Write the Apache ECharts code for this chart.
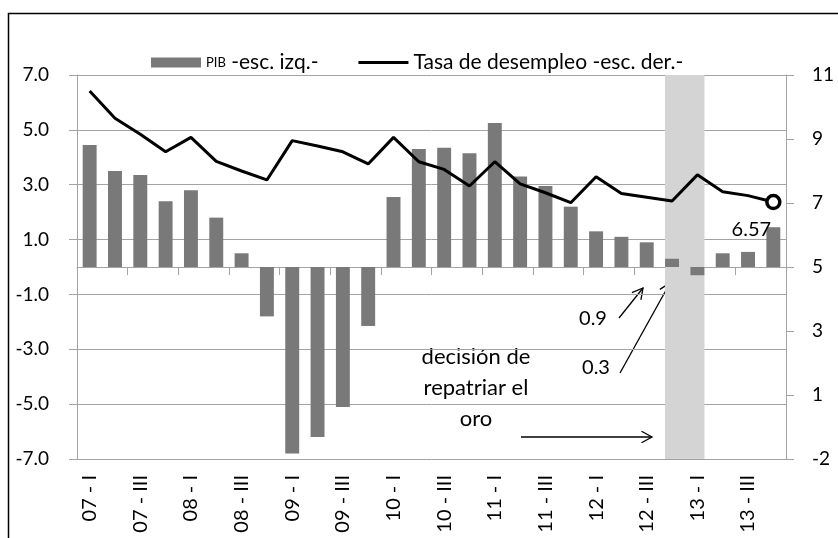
<!DOCTYPE html>
<html>
<head>
<meta charset="utf-8">
<script src="https://cdn.jsdelivr.net/npm/echarts@6/dist/echarts.min.js"></script>
<style>
  html, body { margin: 0; padding: 0; background: #fff; }
  #chart { width: 838px; height: 538px; }
</style>
</head>
<body>
<div id="chart"></div>
<script>
var quarters = [
    "07 - I", "07 - II", "07 - III", "07 - IV",
    "08 - I", "08 - II", "08 - III", "08 - IV",
    "09 - I", "09 - II", "09 - III", "09 - IV",
    "10 - I", "10 - II", "10 - III", "10 - IV",
    "11 - I", "11 - II", "11 - III", "11 - IV",
    "12 - I", "12 - II", "12 - III", "12 - IV",
    "13 - I", "13 - II", "13 - III", "13 - IV"
];
var pib = [4.45, 3.5, 3.35, 2.4, 2.8, 1.8, 0.5, -1.8, -6.8, -6.2, -5.1, -2.15,
    2.55, 4.3, 4.35, 4.15, 5.25, 3.3, 2.95, 2.2, 1.3, 1.1, 0.9, 0.3, -0.3, 0.5, 0.55, 1.45];
var desempleo = [10.5, 9.65, 9.15, 8.6, 9.05, 8.3, 8.0, 7.72, 8.95, 8.78, 8.6, 8.22,
    9.05, 8.29, 8.05, 7.53, 8.29, 7.6, 7.32, 7.01, 7.82, 7.3, 7.18, 7.06, 7.88, 7.35, 7.23, 7.03];
var leftLabels = ["-7.0", "-5.0", "-3.0", "-1.0", "1.0", "3.0", "5.0", "7.0"];
var rightLabels = ["-2", "1", "3", "5", "7", "9", "11"];
var lastLabel = "6.57";
// franja gris (en unidades de categoria)
var shadeFrom = 23.22, shadeTo = 24.78;

var font = 'Lato, "Open Sans", sans-serif';
var gridGray = "#a3a3a3";

var lineData = desempleo.map(function (v, i) {
    if (i !== desempleo.length - 1) return v;
    return {
        value: v,
        symbol: "circle",
        symbolSize: 13,
        itemStyle: {color: "#fff", borderColor: "#000", borderWidth: 3.5},
        label: {
            show: true, position: "bottom", distance: 9, offset: [-22, 0],
            formatter: lastLabel, fontSize: 20, color: "#000", fontFamily: font
        }
    };
});

function arrow(x1, y1, x2, y2) {
    var a = Math.atan2(y2 - y1, x2 - x1), L = 12, s = 0.5;
    return {
        type: "group", silent: true,
        children: [
            {type: "line", shape: {x1: x1, y1: y1, x2: x2, y2: y2}, style: {stroke: "#000", lineWidth: 1.3}},
            {type: "polyline", shape: {points: [
                [x2 - L * Math.cos(a - s), y2 - L * Math.sin(a - s)],
                [x2, y2],
                [x2 - L * Math.cos(a + s), y2 - L * Math.sin(a + s)]
            ]}, style: {stroke: "#000", lineWidth: 1.3, fill: null}}
        ]
    };
}

var myChart = echarts.init(document.getElementById("chart"));
var option = {
    animation: false,
    textStyle: {fontFamily: font},
    grid: {left: 77, right: 52, top: 75, bottom: 79},
    legend: {
        top: 47, left: 146,
        itemWidth: 50, itemHeight: 10, itemGap: 40,
        textStyle: {fontSize: 21, color: "#000", fontFamily: font, rich: {s: {fontSize: 13, fontFamily: font}}},
        data: [
            {name: "PIB", icon: "rect"},
            {name: "Tasa de desempleo -esc. der.-", icon: "path://M0,0H16V1H0Z"}
        ],
        formatter: function (name) {
            return name === "PIB" ? "{s|PIB} -esc. izq.-" : name;
        }
    },
    xAxis: [
        {
            type: "category", data: quarters, position: "bottom",
            axisLine: {onZero: true, lineStyle: {color: gridGray}},
            axisTick: {show: true, length: 8, lineStyle: {color: gridGray}},
            axisLabel: {show: false},
            splitLine: {show: false}
        },
        {
            type: "category", data: quarters, position: "bottom",
            axisLine: {show: false, onZero: false},
            axisTick: {show: false},
            axisLabel: {rotate: 90, interval: 1, fontSize: 20, color: "#000", margin: 16, fontFamily: font},
            splitLine: {show: false}
        },
        {type: "value", min: 0, max: quarters.length, show: false}
    ],
    yAxis: [
        {
            type: "value", min: -7, max: 7, interval: 2, position: "left",
            axisLine: {show: true, lineStyle: {color: gridGray}},
            axisTick: {show: true, length: 8, lineStyle: {color: gridGray}},
            axisLabel: {
                fontSize: 19, color: "#000", margin: 28,
                formatter: function (v, i) { return leftLabels[i]; }
            },
            splitLine: {show: true, lineStyle: {color: gridGray}}
        },
        {
            type: "value", min: -1, max: 11, interval: 2, position: "right",
            axisLine: {show: true, lineStyle: {color: gridGray}},
            axisTick: {show: true, length: 8, lineStyle: {color: gridGray}},
            axisLabel: {
                fontSize: 19, color: "#000", margin: 26,
                formatter: function (v, i) { return rightLabels[i]; }
            },
            splitLine: {show: false}
        }
    ],
    series: [
        {
            name: "franja", type: "line", xAxisIndex: 2, yAxisIndex: 0, data: [],
            silent: true, z: 1,
            markArea: {silent: true, itemStyle: {color: "#d4d4d4"}, data: [[{xAxis: shadeFrom}, {xAxis: shadeTo}]]}
        },
        {
            name: "PIB", type: "bar", data: pib, barWidth: "55%", z: 2,
            itemStyle: {color: "#797979"}
        },
        {
            name: "Tasa de desempleo -esc. der.-", type: "line", yAxisIndex: 1, data: lineData,
            symbol: "none", z: 3,
            lineStyle: {color: "#000", width: 3},
            itemStyle: {color: "#000"}
        }
    ],
    graphic: [
        {type: "rect", silent: true, shape: {x: 8.5, y: 13.5, width: 900, height: 600},
            style: {fill: null, stroke: "#000", lineWidth: 1.5}},
        {type: "text", silent: true, x: 593, y: 319,
            style: {text: "0.9", font: "20px " + font, fill: "#000", align: "center", verticalAlign: "middle"}},
        {type: "text", silent: true, x: 596, y: 368,
            style: {text: "0.3", font: "20px " + font, fill: "#000", align: "center", verticalAlign: "middle"}},
        {type: "text", silent: true, x: 476, y: 388,
            style: {text: "decisión de\nrepatriar el\noro", font: "22px " + font, lineHeight: 31,
                fill: "#000", align: "center", verticalAlign: "middle"}},
        arrow(619, 318, 643, 288),
        arrow(620, 373, 670, 283),
        arrow(521, 437, 652, 437)
    ]
};
myChart.setOption(option);
</script>
</body>
</html>
